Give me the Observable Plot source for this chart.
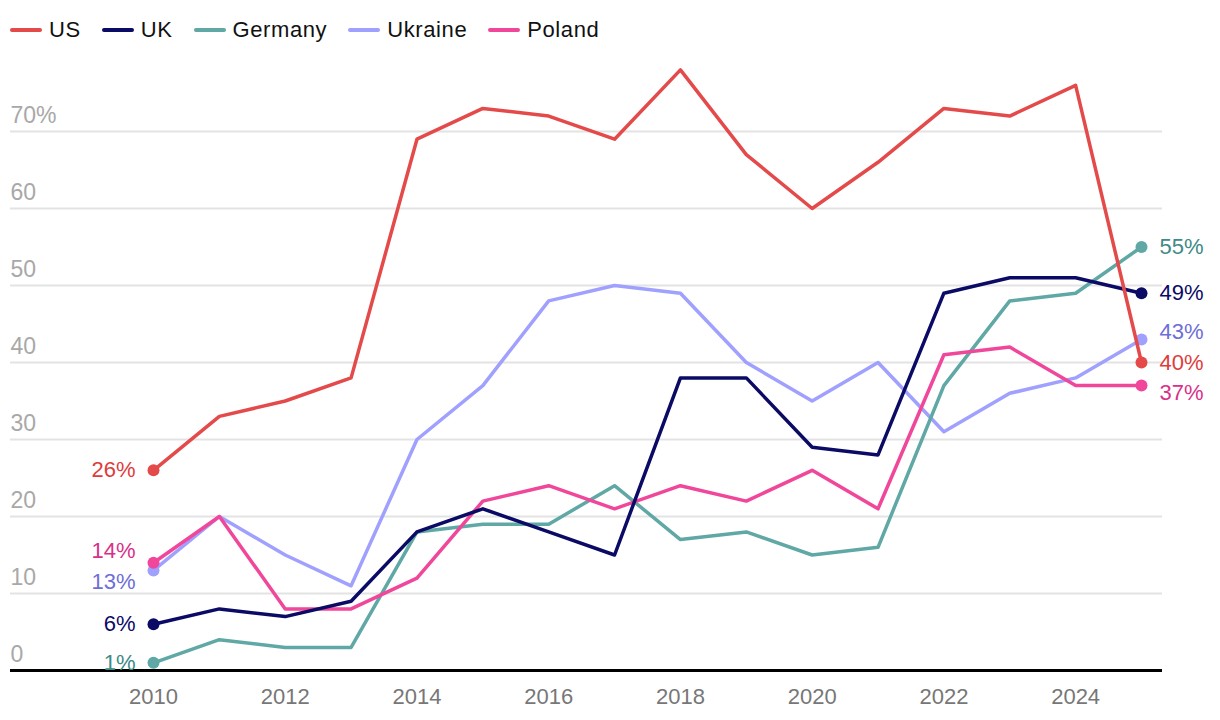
<!DOCTYPE html>
<html><head><meta charset="utf-8">
<script src="https://cdn.jsdelivr.net/npm/d3@7"></script>
<script src="https://cdn.jsdelivr.net/npm/@observablehq/plot@0.6"></script>
<style>
body{margin:0;background:#fff;font-family:"Liberation Sans",Arial,sans-serif;}
#legend{display:flex;align-items:center;height:60px;padding-left:10px;font-family:"Liberation Sans Narrow","Liberation Sans",sans-serif;font-size:22px;letter-spacing:0.6px;color:#111;}
.item{display:flex;align-items:center;margin-right:21px;}
.sw{width:32px;height:4px;border-radius:2px;margin-right:7px;}
#chart svg{display:block;}
</style></head><body>
<div id="legend"></div><div id="chart"></div>
<script>
const years = [2010,2011,2012,2013,2014,2015,2016,2017,2018,2019,2020,2021,2022,2023,2024,2025];
const us      = [26,33,35,38,69,73,72,69,78,67,60,66,73,72,76,40];
const uk      = [6,8,7,9,18,21,18,15,38,38,29,28,49,51,51,49];
const germany = [1,4,3,3,18,19,19,24,17,18,15,16,37,48,49,55];
const ukraine = [13,20,15,11,30,37,48,50,49,40,35,40,31,36,38,43];
const poland  = [14,20,8,8,12,22,24,21,24,22,26,21,41,42,37,37];

const seriesNames = ["US","UK","Germany","Ukraine","Poland"];
const seriesValues = [us, uk, germany, ukraine, poland];
const lineColors  = ["#e44a4a","#0b0b66","#5fa8a5","#a0a0ff","#f0479b"];
const labelColors = ["#e03c3c","#0b0b66","#3d8a86","#6e6ed8","#d9308a"];
const drawOrder = ["Ukraine","Germany","Poland","UK","US"];

const yTicks = [0,10,20,30,40,50,60,70];
const yTickLabels = ["0","10","20","30","40","50","60","70%"];
const xTicks = [2010,2012,2014,2016,2018,2020,2022,2024];

// legend
const legend = document.getElementById("legend");
seriesNames.forEach((n,i)=>{
  const it = document.createElement("div"); it.className="item";
  const sw = document.createElement("div"); sw.className="sw"; sw.style.background=lineColors[i];
  const tx = document.createElement("span"); tx.textContent=n;
  it.appendChild(sw); it.appendChild(tx); legend.appendChild(it);
});

// simple label spreading (in data units)
function spread(items, gap){
  const sorted = items.slice().sort((a,b)=>b.value-a.value);
  let clusters = sorted.map(d=>({members:[d], center:d.value}));
  let merged = true;
  while(merged){
    merged = false;
    for(let i=0;i<clusters.length-1;i++){
      const a=clusters[i], b=clusters[i+1];
      const aBottom = a.center - (a.members.length-1)*gap/2;
      const bTop = b.center + (b.members.length-1)*gap/2;
      if(aBottom - bTop < gap){
        const m = a.members.concat(b.members);
        clusters.splice(i,2,{members:m, center:d3.mean(m,d=>d.value)});
        merged = true; break;
      }
    }
  }
  clusters.forEach(c=>{
    const top = c.center + (c.members.length-1)*gap/2;
    c.members.forEach((d,k)=>{ d.pos = top - k*gap; });
  });
  return sorted;
}

const startLabels = spread(seriesNames.map((s,i)=>({series:s, idx:i, value:seriesValues[i][0]})), 4);
const endLabels = spread(seriesNames.map((s,i)=>({series:s, idx:i, value:seriesValues[i][years.length-1]})), 4);

const marks = [
  Plot.ruleY(yTicks.filter(d=>d>0), {stroke:"#e3e3e3", strokeWidth:2}),
  Plot.text(yTicks, {y:d=>d, text:(d,i)=>yTickLabels[i], frameAnchor:"left", textAnchor:"start", lineAnchor:"bottom", dy:-9, fill:"#a8a8a8", fontSize:23}),
  Plot.ruleY([0], {stroke:"#000", strokeWidth:3}),
  Plot.axisX(xTicks, {tickSize:0, tickPadding:18, tickFormat:d=>String(d), fontSize:22, color:"#777", label:null})
];

drawOrder.forEach(name=>{
  const i = seriesNames.indexOf(name);
  const rows = years.map((yr,j)=>({year:yr, value:seriesValues[i][j]}));
  marks.push(Plot.line(rows, {x:"year", y:"value", stroke:lineColors[i], strokeWidth:3.5, strokeLinejoin:"round"}));
  marks.push(Plot.dot([rows[0], rows[rows.length-1]], {x:"year", y:"value", r:6, fill:lineColors[i]}));
});

seriesNames.forEach((name,i)=>{
  const s = startLabels.find(d=>d.series===name);
  const e = endLabels.find(d=>d.series===name);
  marks.push(Plot.text([s], {x:()=>years[0], y:"pos", text:d=>d.value+"%", textAnchor:"end", dx:-18, fill:labelColors[i], fontSize:22}));
  marks.push(Plot.text([e], {x:()=>years[years.length-1], y:"pos", text:d=>d.value+"%", textAnchor:"start", dx:18, fill:labelColors[i], fontSize:22}));
});

const chart = Plot.plot({
  width:1220, height:660,
  marginLeft:10, marginRight:58, marginTop:10, marginBottom:50,
  x:{domain:[2010,2025], range:[153,1141], label:null},
  y:{domain:[0,70], range:[610,71], axis:null},
  style:{fontFamily:"'Liberation Sans', Arial, sans-serif", background:"#fff", overflow:"visible"},
  marks
});
document.getElementById("chart").appendChild(chart);
</script>
</body></html>
